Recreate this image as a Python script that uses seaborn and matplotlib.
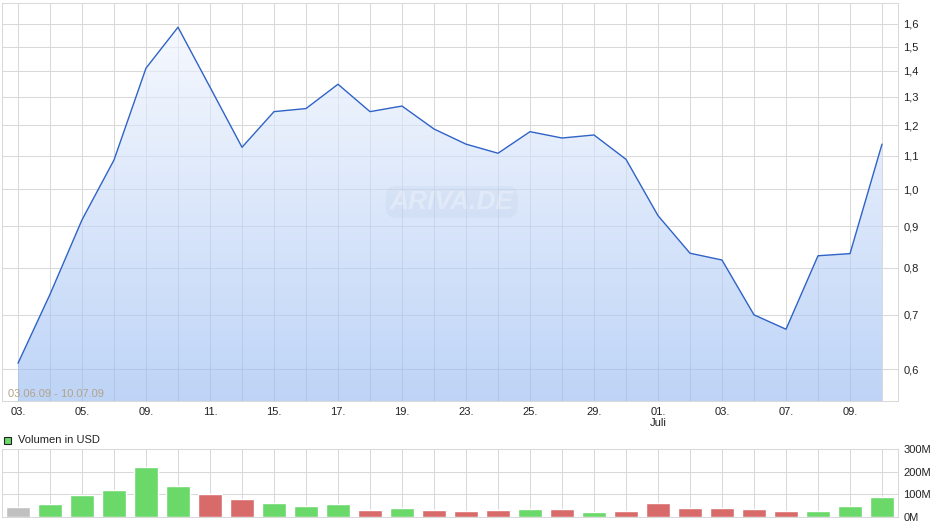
import matplotlib
matplotlib.use("Agg")
import matplotlib.pyplot as plt
import seaborn as sns
import numpy as np
import pandas as pd
from matplotlib.patches import Rectangle
from matplotlib.ticker import FixedLocator, FixedFormatter, NullLocator

# trading days 03.06.09 - 10.07.09
days = [3, 4, 5, 8, 9, 10, 11, 12, 15, 16, 17, 18, 19, 22, 23, 24, 25, 26, 29, 30,
        1, 2, 3, 6, 7, 8, 9, 10]
price = [0.610, 0.742, 0.917, 1.087, 1.411, 1.585, 1.337, 1.127, 1.247, 1.258,
         1.348, 1.247, 1.267, 1.187, 1.137, 1.108, 1.178, 1.157, 1.167, 1.089,
         0.928, 0.834, 0.818, 0.700, 0.672, 0.828, 0.833, 1.137]
volume_m = [42, 56, 96, 118, 219, 135, 100, 78, 60, 47, 56, 29, 38, 29, 25, 29,
            34, 34, 21, 25, 60, 38, 38, 34, 25, 25, 47, 87]
price_ticks = [0.6, 0.7, 0.8, 0.9, 1.0, 1.1, 1.2, 1.3, 1.4, 1.5, 1.6]
vol_ticks = [0, 100, 200, 300]

n = len(price)
idx = np.arange(n)
direction = ["n"] + ["up" if price[i] >= price[i - 1] else "down" for i in range(1, n)]
df = pd.DataFrame({"i": idx, "price": price, "vol": volume_m, "dir": direction})

xlabels = []
for i, d in enumerate(days):
    if i % 2 == 0:
        lab = "%02d." % d
        if i == 20:
            lab += "\nJuli"
        xlabels.append(lab)
    else:
        xlabels.append("")

sns.set_style("white")
plt.rcParams["font.family"] = ["Liberation Sans", "DejaVu Sans"]

grid_c = "#d9d9d9"
fig = plt.figure(figsize=(9.4, 5.26), dpi=100)
ax = fig.add_axes([2 / 940, 125 / 526, 896 / 940, 398 / 526])
axv = fig.add_axes([2 / 940, 9 / 526, 896 / 940, 68 / 526])

# --- price panel
ylo, yhi = 0.548, 1.698
ax.set_yscale("log")
poly = ax.fill_between(df["i"], df["price"], ylo, color="none", lw=0)
top = np.array([0.965, 0.975, 1.0])
bot = np.array([0.59, 0.73, 0.95])
t = np.linspace(0, 1, 256)[:, None]
grad = np.zeros((256, 2, 4))
grad[:, :, :3] = (top + (bot - top) * t)[:, None, :]
grad[:, :, 3] = 0.62
im = ax.imshow(grad, extent=[0, 1, 0, 1], transform=ax.transAxes, aspect="auto",
               zorder=1, interpolation="bilinear")
im.set_clip_path(poly.get_paths()[0], transform=ax.transData)
sns.lineplot(data=df, x="i", y="price", ax=ax, color="#2f63c6", lw=1.0, zorder=3)

ax.set_xlim(-0.5, n - 0.5)
ax.set_ylim(ylo, yhi)
ax.xaxis.set_major_locator(FixedLocator(idx))
ax.xaxis.set_major_formatter(FixedFormatter(xlabels))
ax.yaxis.set_major_locator(FixedLocator(price_ticks))
ax.yaxis.set_major_formatter(FixedFormatter([("%.1f" % v).replace(".", ",") for v in price_ticks]))
ax.yaxis.set_minor_locator(NullLocator())
ax.yaxis.tick_right()
ax.set_xlabel("")
ax.set_ylabel("")
ax.grid(True, color=grid_c, lw=0.75, zorder=0.5)
ax.set_axisbelow(True)
ax.tick_params(axis="x", length=4, color=grid_c, labelsize=8, pad=0, labelcolor="#222222")
ax.tick_params(axis="y", length=0, labelsize=8, pad=4, labelcolor="#222222")
for s in ax.spines.values():
    s.set_color(grid_c)
    s.set_linewidth(0.75)

ax.text(0.0067, 0.006, "03.06.09 - 10.07.09", transform=ax.transAxes, fontsize=8,
        color="#b3a38c", ha="left", va="bottom", zorder=4)
ax.text(0.502, 0.5, "ARIVA.DE", transform=ax.transAxes, fontsize=19, fontstyle="italic",
        fontweight="bold", color="#ffffff", alpha=0.3, ha="center", va="center", zorder=2,
        bbox=dict(boxstyle="round,pad=0.15,rounding_size=0.4", fc="#aebfda", ec="none", alpha=0.14))

# --- volume panel
pal = {"n": "#c0c0c0", "up": "#6ad96a", "down": "#d96a6a"}
sns.barplot(data=df, x="i", y="vol", hue="dir", palette=pal, dodge=False, legend=False,
            width=0.75, ax=axv, saturation=1, zorder=2)
axv.set_xlim(-0.5, n - 0.5)
axv.set_ylim(0, 300)
axv.xaxis.set_major_locator(FixedLocator(idx))
axv.set_xticklabels([])
axv.yaxis.set_major_locator(FixedLocator(vol_ticks))
axv.yaxis.set_major_formatter(FixedFormatter(["%dM" % v for v in vol_ticks]))
axv.yaxis.tick_right()
axv.set_xlabel("")
axv.set_ylabel("")
axv.grid(True, color=grid_c, lw=0.75, zorder=0.5)
axv.set_axisbelow(True)
axv.tick_params(axis="x", length=0)
axv.tick_params(axis="y", length=0, labelsize=8, pad=4, labelcolor="#222222")
for s in axv.spines.values():
    s.set_color(grid_c)
    s.set_linewidth(0.75)

# legend marker
fig.add_artist(Rectangle((3.5 / 940, 1 - 444 / 526), 7 / 940, 7 / 526, transform=fig.transFigure,
                         fc="#6ad96a", ec="#222222", lw=0.8))
fig.text(18 / 940, 1 - 440 / 526, "Volumen in USD", fontsize=8, va="center", ha="left",
         color="#222222")

fig.savefig("out.png", dpi=100)
